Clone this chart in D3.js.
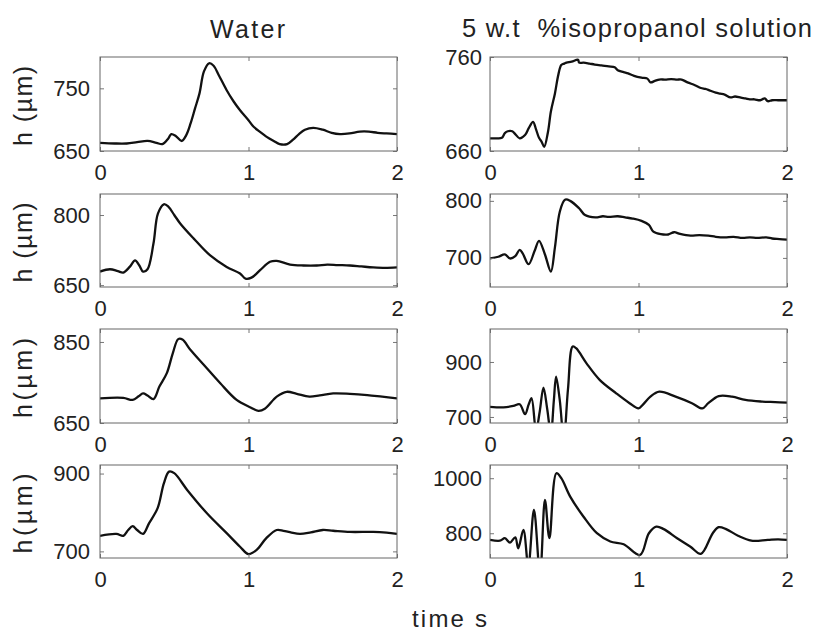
<!DOCTYPE html>
<html>
<head>
<meta charset="utf-8">
<script src="https://cdn.jsdelivr.net/npm/d3@7"></script>
<style>
  body { margin: 0; background: #fff; }
  text { font-family: "Liberation Sans", Arial, sans-serif; fill: #222; }
</style>
</head>
<body>
<svg id="canvas" width="818" height="632"></svg>
<script>
// ************************************************************************************** //
// Data (time in s, film height h in um)

var water1_t = [0, 0.1, 0.18, 0.25, 0.32, 0.38, 0.42, 0.46, 0.48, 0.51, 0.55, 0.58, 0.61, 0.64, 0.67, 0.70, 0.735, 0.765, 0.80, 0.853, 0.90, 0.943, 1.0, 1.033, 1.08, 1.12, 1.17, 1.21, 1.26, 1.30, 1.34, 1.38, 1.436, 1.50, 1.56, 1.616, 1.68, 1.75, 1.81, 1.87, 1.93, 2.0];
var water1_h = [663, 662, 662, 664, 666, 663, 661, 670, 677, 674, 666, 675, 694, 718, 742, 777, 790, 786, 771, 747, 729, 715, 699, 689, 680, 673, 666, 661, 661, 668, 677, 684, 687, 684, 679, 677, 678, 681, 681, 679, 678, 677];

var iso1_t = [0, 0.04, 0.08, 0.10, 0.12, 0.15, 0.17, 0.20, 0.236, 0.26, 0.29, 0.31, 0.33, 0.347, 0.365, 0.39, 0.41, 0.437, 0.46, 0.48, 0.50, 0.515, 0.55, 0.593, 0.60, 0.63, 0.67, 0.705, 0.75, 0.80, 0.84, 0.86, 0.90, 0.93, 0.97, 1.02, 1.06, 1.08, 1.11, 1.14, 1.18, 1.22, 1.26, 1.29, 1.33, 1.38, 1.42, 1.45, 1.47, 1.52, 1.55, 1.58, 1.62, 1.65, 1.69, 1.72, 1.75, 1.78, 1.82, 1.85, 1.87, 1.9, 1.94, 1.97, 2.0];
var iso1_h = [673.5, 673.5, 674, 679, 681, 681, 678, 673.5, 677, 684, 691, 683, 674, 670, 664.5, 680, 702, 721, 741, 751.5, 753, 754, 755, 757, 754, 754, 753, 752, 751, 750, 749, 746, 744, 742.6, 740, 738, 737, 733, 734.5, 736, 736, 736.5, 736, 736, 733, 730, 727, 726, 725, 722, 721, 720, 717, 718, 716.7, 716, 715, 715, 714, 716, 713, 714, 714, 714, 714];

var water2_t = [0, 0.067, 0.12, 0.157, 0.20, 0.236, 0.265, 0.29, 0.32, 0.36, 0.39, 0.43, 0.46, 0.50, 0.54, 0.63, 0.74, 0.853, 0.943, 0.98, 1.02, 1.078, 1.145, 1.19, 1.28, 1.37, 1.46, 1.53, 1.60, 1.683, 1.76, 1.84, 1.92, 2.0];
var water2_h = [679, 684, 680, 677, 689, 703, 692, 679, 684, 739, 803, 823, 818, 800, 782, 750, 714, 689, 675, 664, 666, 682, 700, 702, 694, 692, 692, 694, 693, 692, 690, 688, 687, 688];

var iso2_t = [0, 0.056, 0.1, 0.135, 0.17, 0.2, 0.22, 0.26, 0.30, 0.33, 0.37, 0.41, 0.437, 0.47, 0.505, 0.54, 0.6, 0.64, 0.71, 0.76, 0.8, 0.86, 0.91, 0.96, 1.02, 1.07, 1.1, 1.15, 1.2, 1.24, 1.28, 1.35, 1.41, 1.47, 1.52, 1.58, 1.64, 1.7, 1.75, 1.8, 1.86, 1.9, 1.95, 2.0];
var iso2_h = [699, 702, 706, 699, 703, 714, 708, 689, 712, 730, 706, 676, 718, 781, 802, 800, 787, 775, 771, 773, 772, 773, 771, 769, 765, 758, 746, 741.5, 741, 745, 742, 739, 740, 739, 737, 736, 737, 735, 736, 735, 736, 734, 733, 732];

var water3_t = [0, 0.157, 0.22, 0.26, 0.29, 0.32, 0.36, 0.40, 0.45, 0.49, 0.527, 0.555, 0.61, 0.70, 0.81, 0.92, 1.01, 1.067, 1.11, 1.19, 1.257, 1.325, 1.41, 1.48, 1.57, 1.683, 1.8, 1.9, 2.0];
var water3_h = [711, 712, 707, 716, 723, 718, 709, 740, 773, 822, 857, 856, 830, 793, 748, 707, 689, 680, 685, 715, 727, 722, 715, 718, 723, 722, 719, 715, 711];

var iso3_t = [0, 0.09, 0.157, 0.2, 0.236, 0.26, 0.28, 0.31, 0.335, 0.36, 0.385, 0.41, 0.43, 0.445, 0.47, 0.497, 0.525, 0.557, 0.58, 0.65, 0.74, 0.85, 0.94, 1.0, 1.03, 1.08, 1.14, 1.25, 1.36, 1.43, 1.47, 1.54, 1.63, 1.72, 1.83, 1.92, 2.0];
var iso3_h = [737, 735, 740, 746, 710, 745, 768, 650, 720, 807, 730, 640, 760, 847, 760, 620, 800, 956, 950, 895, 834, 786, 750, 731, 745, 774, 792, 774, 750, 731, 750, 776, 774, 762, 756, 754, 752];

var water4_t = [0, 0.11, 0.157, 0.19, 0.22, 0.25, 0.29, 0.33, 0.388, 0.43, 0.465, 0.5, 0.587, 0.72, 0.853, 0.943, 1.0, 1.055, 1.12, 1.19, 1.235, 1.29, 1.347, 1.42, 1.5, 1.57, 1.683, 1.84, 1.93, 2.0];
var water4_h = [740, 745, 740, 755, 765, 755, 745, 772, 811, 875, 905, 901, 858, 798, 747, 712, 693, 704, 734, 755, 753, 748, 745, 749, 755, 753, 750, 750, 748, 745];

var iso4_t = [0, 0.067, 0.1, 0.135, 0.17, 0.19, 0.225, 0.258, 0.296, 0.337, 0.37, 0.40, 0.447, 0.48, 0.54, 0.63, 0.72, 0.81, 0.9, 1.01, 1.07, 1.12, 1.17, 1.26, 1.35, 1.42, 1.5, 1.54, 1.59, 1.67, 1.76, 1.87, 1.94, 2.0];
var iso4_h = [776, 773, 782, 766, 785, 745, 812, 680, 885, 650, 921, 782, 1018, 1000, 933, 860, 800, 770, 760, 721, 800, 824, 815, 782, 751, 725, 800, 822, 815, 791, 773, 776, 778, 776];

// axis limits and ticks of each panel
var water_limits = [[650, 800], [646, 845], [650, 882], [683, 922]];
var iso_limits   = [[660, 760], [649, 812], [678, 1020], [710, 1048]];
var water_ticks  = [[650, 750], [650, 800], [650, 850], [700, 900]];
var iso_ticks    = [[660, 760], [700, 800], [700, 900], [800, 1000]];
var time_ticks   = [0, 1, 2];
var col_titles   = ['Water', '5 w.t\u00a0\u00a0%isopropanol solution'];
var y_titles     = ['h (\u00b5m)', 'h (\u00b5m)', 'h(\u00b5m)', 'h(\u00b5m)'];

// ************************************************************************************** //
// Layout

var svg = d3.select('#canvas');
var col_x = [100, 490], panel_w = 297;
var row_y = [57, 194, 329, 465], row_h = [94, 93, 94, 93];

var panels = [
  { col: 0, row: 0, t: water1_t, h: water1_h }, { col: 1, row: 0, t: iso1_t, h: iso1_h },
  { col: 0, row: 1, t: water2_t, h: water2_h }, { col: 1, row: 1, t: iso2_t, h: iso2_h },
  { col: 0, row: 2, t: water3_t, h: water3_h }, { col: 1, row: 2, t: iso3_t, h: iso3_h },
  { col: 0, row: 3, t: water4_t, h: water4_h }, { col: 1, row: 3, t: iso4_t, h: iso4_h }
];

svg.append('rect').attr('width', 818).attr('height', 632).attr('fill', '#fff');

panels.forEach(function(p, i){
  var w = panel_w, hgt = row_h[p.row];
  var lim = p.col == 0 ? water_limits[p.row] : iso_limits[p.row];
  var ticks = p.col == 0 ? water_ticks[p.row] : iso_ticks[p.row];
  var g = svg.append('g').attr('transform', 'translate(' + col_x[p.col] + ',' + row_y[p.row] + ')');

  var x = d3.scaleLinear().domain([0, 2]).range([0, w]);
  var y = d3.scaleLinear().domain(lim).range([hgt, 0]);

  g.append('clipPath').attr('id', 'clip' + i)
    .append('rect').attr('width', w).attr('height', hgt);

  var line = d3.line().x((d, k) => x(p.t[k])).y(d => y(d)).curve(d3.curveCatmullRom.alpha(0.5));
  g.append('path').datum(p.h)
    .attr('clip-path', 'url(#clip' + i + ')')
    .attr('d', line)
    .attr('fill', 'none').attr('stroke', '#111').attr('stroke-width', 2.3).attr('stroke-linejoin', 'round');

  // axes, ticks pointing inside
  var xb = g.append('g').attr('transform', 'translate(0,' + hgt + ')')
    .call(d3.axisBottom(x).tickValues(time_ticks).tickFormat(d3.format('d')).tickSize(-4).tickPadding(13));
  var xt = g.append('g').call(d3.axisTop(x).tickValues(time_ticks).tickFormat('').tickSize(-4));
  var yl = g.append('g').call(d3.axisLeft(y).tickValues(ticks).tickFormat(d3.format('d')).tickSize(-4).tickPadding(p.col == 0 ? 10 : 8));
  var yr = g.append('g').attr('transform', 'translate(' + w + ',0)')
    .call(d3.axisRight(y).tickValues(ticks).tickFormat('').tickSize(-4));
  [xb, xt, yl, yr].forEach(function(a){
    a.select('.domain').remove();
    a.selectAll('line').attr('stroke', '#777');
    a.selectAll('text').attr('font-size', 22).attr('font-family', '"Liberation Sans", Arial, sans-serif').attr('fill', '#222');
  });

  g.append('rect').attr('width', w).attr('height', hgt)
    .attr('fill', 'none').attr('stroke', '#666').attr('stroke-width', 1);

  if (p.col == 0) {
    svg.append('text')
      .attr('transform', 'translate(32,' + (row_y[p.row] + hgt / 2 + 2) + ') rotate(-90)')
      .attr('text-anchor', 'middle').attr('font-size', 25)
      .attr('textLength', 80).attr('lengthAdjust', 'spacing')
      .text(y_titles[p.row]);
  }
});

// ************************************************************************************** //
// Titles

svg.append('text').attr('x', 247.5).attr('y', 38).attr('text-anchor', 'middle')
  .attr('font-size', 25).attr('textLength', 75).attr('lengthAdjust', 'spacing').text(col_titles[0]);
svg.append('text').attr('x', 637).attr('y', 37).attr('text-anchor', 'middle')
  .attr('font-size', 25.5).attr('textLength', 350).attr('lengthAdjust', 'spacing').text(col_titles[1]);
svg.append('text').attr('x', 449.5).attr('y', 627).attr('text-anchor', 'middle')
  .attr('font-size', 24).attr('textLength', 75).attr('lengthAdjust', 'spacing').text('time s');
</script>
</body>
</html>
